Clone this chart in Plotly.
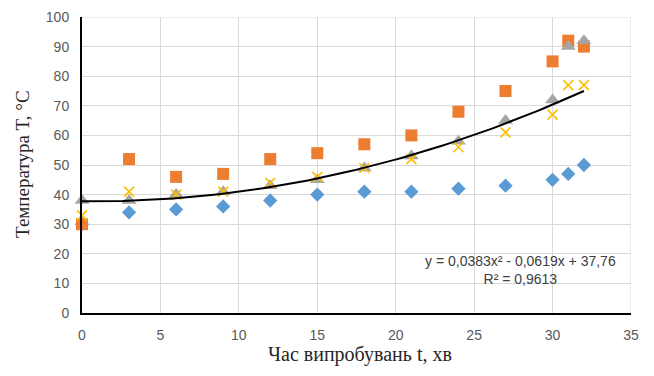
import numpy as np
import plotly.graph_objects as go

t = [0, 3, 6, 9, 12, 15, 18, 21, 24, 27, 30, 31, 32]
s_blue = [30, 34, 35, 36, 38, 40, 41, 41, 42, 43, 45, 47, 50]
s_orange = [30, 52, 46, 47, 52, 54, 57, 60, 68, 75, 85, 92, 90]
s_gray = [38, 38, 40, 41, 43, 45, 49, 53, 58, 65, 72, 90, 92]
s_yellow = [33, 41, 40, 41, 44, 46, 49, 52, 56, 61, 67, 77, 77]
trend_coef = [0.0383, -0.0619, 37.76]
x_ticks = [0, 5, 10, 15, 20, 25, 30, 35]
y_ticks = [0, 10, 20, 30, 40, 50, 60, 70, 80, 90, 100]

fig = go.Figure()
fig.add_trace(go.Scatter(x=t, y=s_blue, mode="markers", cliponaxis=False,
                         marker=dict(symbol="diamond", size=11, color="#5b9bd5")))
fig.add_trace(go.Scatter(x=t, y=s_orange, mode="markers", cliponaxis=False,
                         marker=dict(symbol="square", size=12, color="#ed7d31")))
fig.add_trace(go.Scatter(x=t, y=s_gray, mode="markers", cliponaxis=False,
                         marker=dict(symbol="triangle-up", size=13, color="#a5a5a5")))
fig.add_trace(go.Scatter(x=t, y=s_yellow, mode="markers", cliponaxis=False,
                         marker=dict(symbol="x-thin", size=10, color="#ffc000",
                                     line=dict(color="#ffc000", width=1.6))))
tx = np.linspace(0, 32, 100)
ty = np.polyval(trend_coef, tx)
fig.add_trace(go.Scatter(x=tx, y=ty, mode="lines", line=dict(color="black", width=2)))

fig.add_annotation(x=34.2, y=14.5, xref="x", yref="y", showarrow=False,
                   text="y = 0,0383x² - 0,0619x + 37,76<br>R² = 0,9613",
                   align="center", xanchor="right", yanchor="middle",
                   font=dict(family="Liberation Sans", size=14, color="#404040"))

fig.add_annotation(x=0.5, y=0, xref="paper", yref="paper", showarrow=False,
                   xshift=3, yshift=-41, xanchor="center", yanchor="middle",
                   text="Час випробувань t, хв",
                   font=dict(family="Liberation Serif", size=20, color="#262626"))
fig.add_annotation(x=0, y=0.5, xref="paper", yref="paper", showarrow=False,
                   xshift=-60, yshift=1, xanchor="center", yanchor="middle", textangle=-90,
                   text="Температура T, °C",
                   font=dict(family="Liberation Serif", size=19, color="#262626"))

fig.update_layout(
    width=646, height=368,
    margin=dict(l=74, r=23, t=9, b=63),
    paper_bgcolor="white", plot_bgcolor="white",
    showlegend=False,
    xaxis=dict(range=[0, 35], tickvals=x_ticks, showgrid=True, gridcolor="#d9d9d9",
               gridwidth=1, zeroline=False, showline=True, linecolor="black", linewidth=2,
               ticks="", automargin=False, ticklabelstandoff=8,
               tickfont=dict(family="Liberation Sans", size=14, color="#595959")),
    yaxis=dict(range=[0, 100], tickvals=y_ticks, showgrid=True, gridcolor="#d9d9d9",
               gridwidth=1, zeroline=False, showline=True, linecolor="black", linewidth=2,
               ticks="", automargin=False, ticklabelstandoff=8,
               tickfont=dict(family="Liberation Sans", size=14, color="#595959")),
)
fig.add_shape(type="line", xref="x", yref="y", x0=35, x1=35, y0=0, y1=100,
              line=dict(color="#d9d9d9", width=1), layer="below")
fig.add_shape(type="line", xref="x", yref="y", x0=0, x1=35, y0=100, y1=100,
              line=dict(color="#d9d9d9", width=1), layer="below")
fig.write_html("out.html")
